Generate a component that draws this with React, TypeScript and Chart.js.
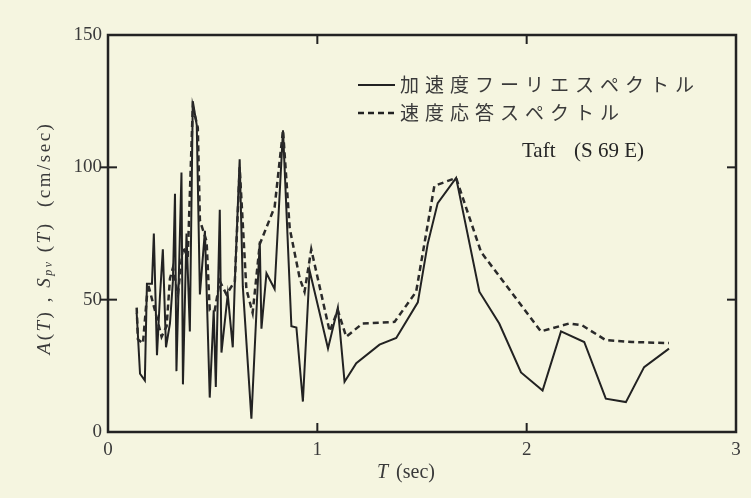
import React, { useEffect, useRef } from 'react';
import { Chart, registerables } from 'chart.js';

Chart.register(...registerables);

// ---- data (period T in sec, amplitude in cm/sec) ----
const periodSolid = [0.137,0.153,0.176,0.186,0.210,0.219,0.234,0.248,0.262,0.277,0.296,0.310,0.320,0.327,0.351,0.358,0.375,0.391,0.405,0.424,0.439,0.463,0.486,0.505,0.515,0.534,0.542,0.572,0.596,0.606,0.629,0.644,0.685,0.725,0.733,0.757,0.796,0.836,0.876,0.900,0.931,0.963,1.051,1.098,1.130,1.186,1.297,1.377,1.480,1.527,1.575,1.663,1.774,1.869,1.973,2.076,2.164,2.275,2.378,2.474,2.561,2.680];
const fourierAmp = [45,22,19.5,56,56,75,29,51,69,32,41,57,90,23,98,18,75,38,125,116,52,76,13,46,17,84,30,52,32,57,103,55,5,72,39,60,54,114,40,39.5,11.5,61,31.6,47,19,26,33,35.5,49,71,86.5,96,53,41,22.5,15.7,38,34,12.6,11.3,24.5,31.5];

const periodDashed = [0.137,0.143,0.167,0.191,0.224,0.256,0.280,0.296,0.310,0.334,0.358,0.381,0.405,0.429,0.439,0.471,0.486,0.510,0.534,0.566,0.606,0.629,0.661,0.691,0.725,0.796,0.836,0.868,0.916,0.939,0.971,1.059,1.098,1.138,1.216,1.369,1.472,1.559,1.663,1.782,2.068,2.203,2.265,2.378,2.503,2.680];
const velocityResp = [47,35,33.5,56,46,36,40,58,62,52,70,66,123,115,80,72,46,46,57,52,57,100,54,45,71,85,114,77,58,53,69,38,46,36,41,41.6,53,93,96,68,38,41,40.3,34.7,34,33.6];

const xTicks = [0, 1, 2, 3];
const yTicks = [0, 50, 100, 150];
const legendLabels = ['加速度フーリエスペクトル', '速度応答スペクトル'];
const noteLabel = ['Taft', '(S 69 E)'];

const SERIF = '"Liberation Serif", "DejaVu Serif", serif';
const CJK = '"Noto Sans CJK JP", "Noto Sans", sans-serif';
const BG = '#f5f5e0';
const INK = '#222222';
const TEXT = '#3a3a3a';

const decor = {
  id: 'decor',
  beforeDraw(chart: any) {
    const { ctx, width, height } = chart;
    ctx.save();
    ctx.fillStyle = BG;
    ctx.fillRect(0, 0, width, height);
    ctx.restore();
  },
  afterDatasetsDraw(chart: any) {
    const { ctx, chartArea: a, scales } = chart;
    const x = scales.x;
    const y = scales.y;
    const line = (x1: number, y1: number, x2: number, y2: number) => {
      ctx.beginPath();
      ctx.moveTo(x1, y1);
      ctx.lineTo(x2, y2);
      ctx.stroke();
    };
    ctx.save();
    ctx.strokeStyle = INK;
    ctx.lineWidth = 2.5;
    ctx.strokeRect(a.left, a.top, a.right - a.left, a.bottom - a.top);
    ctx.lineWidth = 2;
    yTicks.forEach((v) => {
      if (v === yTicks[0] || v === yTicks[yTicks.length - 1]) return;
      const py = y.getPixelForValue(v);
      line(a.left - 8, py, a.left + 9, py);
      line(a.right - 9, py, a.right, py);
    });
    xTicks.forEach((v) => {
      if (v === xTicks[0] || v === xTicks[xTicks.length - 1]) return;
      const px = x.getPixelForValue(v);
      line(px, a.bottom, px, a.bottom - 9);
      line(px, a.top, px, a.top + 9);
    });
    ctx.restore();
  },
  afterDraw(chart: any) {
    const { ctx } = chart;
    ctx.save();
    // legend
    ctx.strokeStyle = INK;
    ctx.lineWidth = 2;
    ctx.beginPath();
    ctx.moveTo(358, 85);
    ctx.lineTo(395, 85);
    ctx.stroke();
    ctx.setLineDash([6, 4]);
    ctx.lineWidth = 2.5;
    ctx.beginPath();
    ctx.moveTo(358, 113);
    ctx.lineTo(395, 113);
    ctx.stroke();
    ctx.setLineDash([]);

    ctx.fillStyle = TEXT;
    ctx.textBaseline = 'middle';
    ctx.textAlign = 'left';
    ctx.font = `19px ${CJK}`;
    (ctx as any).letterSpacing = '6px';
    ctx.fillText(legendLabels[0], 400, 85);
    ctx.fillText(legendLabels[1], 400, 113);
    (ctx as any).letterSpacing = '0px';

    // note
    ctx.fillStyle = '#262626';
    ctx.font = `21px ${SERIF}`;
    ctx.fillText(noteLabel[0], 522, 151);
    ctx.fillText(noteLabel[1], 574, 151);

    // x title
    ctx.fillStyle = TEXT;
    ctx.font = `italic 20px ${SERIF}`;
    ctx.fillText('T', 377, 473);
    const tw = ctx.measureText('T').width;
    ctx.font = `20px ${SERIF}`;
    ctx.fillText(' (sec)', 377 + tw + 3, 473);

    // y title (rotated)
    const segs = [
      { t: 'A', f: `italic 19px ${SERIF}`, dy: 0 },
      { t: '(', f: `19px ${SERIF}`, dy: 0 },
      { t: 'T', f: `italic 19px ${SERIF}`, dy: 0 },
      { t: ') , ', f: `19px ${SERIF}`, dy: 0 },
      { t: 'S', f: `italic 19px ${SERIF}`, dy: 0 },
      { t: 'pv', f: `italic 12px ${SERIF}`, dy: 4 },
      { t: ' (', f: `19px ${SERIF}`, dy: 0 },
      { t: 'T', f: `italic 19px ${SERIF}`, dy: 0 },
      { t: ')  (cm/sec)', f: `19px ${SERIF}`, dy: 0 },
    ];
    (ctx as any).letterSpacing = '2.5px';
    let total = 0;
    const widths = segs.map((s) => {
      ctx.font = s.f;
      const w = ctx.measureText(s.t).width;
      total += w;
      return w;
    });
    ctx.translate(45, 238);
    ctx.rotate(-Math.PI / 2);
    let cx = -total / 2;
    segs.forEach((s, i) => {
      ctx.font = s.f;
      ctx.fillText(s.t, cx, s.dy);
      cx += widths[i];
    });
    (ctx as any).letterSpacing = '0px';
    ctx.restore();
  },
};

export default function App() {
  const ref = useRef<HTMLCanvasElement | null>(null);

  useEffect(() => {
    const canvas = ref.current;
    if (!canvas) return;
    document.body.style.margin = '0';
    const chart = new Chart(canvas, {
      type: 'scatter',
      data: {
        datasets: [
          {
            label: legendLabels[1],
            data: periodDashed.map((t, i) => ({ x: t, y: velocityResp[i] })),
            showLine: true,
            borderColor: '#2a2a2a',
            borderWidth: 2.5,
            borderDash: [6, 4],
            pointRadius: 0,
            tension: 0,
          },
          {
            label: legendLabels[0],
            data: periodSolid.map((t, i) => ({ x: t, y: fourierAmp[i] })),
            showLine: true,
            borderColor: '#222222',
            borderWidth: 2,
            pointRadius: 0,
            tension: 0,
          },
        ],
      },
      options: {
        responsive: false,
        animation: false,
        devicePixelRatio: 1,
        layout: { padding: { top: 35, right: 15, left: 0, bottom: 0 } },
        plugins: { legend: { display: false }, tooltip: { enabled: false } },
        scales: {
          x: {
            type: 'linear',
            min: xTicks[0],
            max: xTicks[xTicks.length - 1],
            afterFit: (s: any) => { s.height = 66; },
            afterBuildTicks: (s: any) => { s.ticks = xTicks.map((v) => ({ value: v })); },
            grid: { display: false, drawTicks: false },
            border: { display: false },
            ticks: {
              padding: 7,
              color: TEXT,
              font: { family: SERIF, size: 19 },
            },
          },
          y: {
            type: 'linear',
            min: yTicks[0],
            max: yTicks[yTicks.length - 1],
            afterFit: (s: any) => { s.width = 108; },
            afterBuildTicks: (s: any) => { s.ticks = yTicks.map((v) => ({ value: v })); },
            grid: { display: false, drawTicks: false },
            border: { display: false },
            ticks: {
              padding: 6,
              color: TEXT,
              font: { family: SERIF, size: 19 },
            },
          },
        },
      },
      plugins: [decor],
    } as any);
    return () => chart.destroy();
  }, []);

  return (
    <canvas
      ref={ref}
      width={751}
      height={498}
      style={{ position: 'fixed', left: 0, top: 0, display: 'block' }}
    />
  );
}
